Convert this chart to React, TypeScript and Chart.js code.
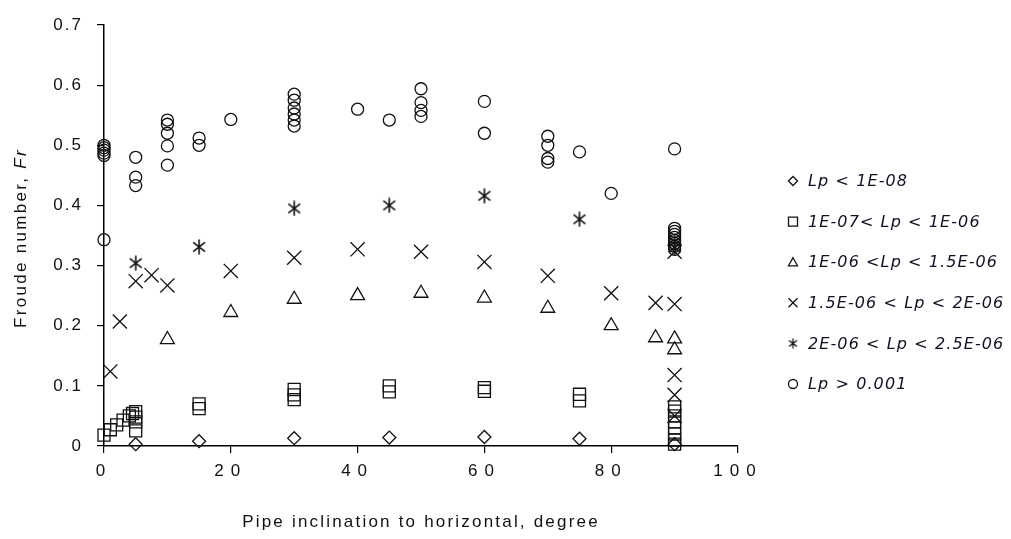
import React, { useEffect, useRef } from 'react';
import { Chart, registerables } from 'chart.js';

Chart.register(...registerables);

// ---------- data ----------
const seriesLabels = [
  'Lp < 1E-08',
  '1E-07< Lp < 1E-06',
  '1E-06 <Lp < 1.5E-06',
  '1.5E-06 < Lp < 2E-06',
  '2E-06 < Lp < 2.5E-06',
  'Lp > 0.001',
];

const xTitle = 'Pipe inclination to horizontal, degree';
const yTitleMain = 'Froude number, ';
const yTitleItalic = 'Fr';

const lpBelow1e8: [number, number][] = [
  [5, 0.003], [15, 0.008], [30, 0.013], [45, 0.014], [60, 0.015], [75, 0.012], [90, 0.003],
];

const lp1e7to1e6: [number, number][] = [
  [0, 0.018], [1, 0.027], [2, 0.035], [3, 0.043], [4, 0.05], [4.5, 0.054],
  [5, 0.057], [5, 0.048], [5, 0.04], [5, 0.025],
  [15, 0.07], [15, 0.062],
  [30, 0.094], [30, 0.085], [30, 0.077],
  [45, 0.1], [45, 0.09],
  [60, 0.097], [60, 0.091],
  [75, 0.086], [75, 0.075],
  [90, 0.065], [90, 0.058], [90, 0.05], [90, 0.04], [90, 0.03], [90, 0.02], [90, 0.01], [90, 0.003],
];

const lp1e6to15e7: [number, number][] = [
  [10, 0.177], [20, 0.222], [30, 0.244], [40, 0.25], [50, 0.254], [60, 0.246],
  [70, 0.229], [80, 0.2], [87, 0.18], [90, 0.178], [90, 0.16],
];

const lp15e7to2e6: [number, number][] = [
  [1, 0.124], [2.5, 0.207], [5, 0.274], [7.5, 0.284], [10, 0.267], [20, 0.291],
  [30, 0.313], [40, 0.327], [50, 0.323], [60, 0.306], [70, 0.283], [80, 0.254],
  [87, 0.238], [90, 0.236], [90, 0.323], [90, 0.118], [90, 0.085], [90, 0.05],
];

const lp2e6to25e7: [number, number][] = [
  [5, 0.304], [15, 0.331], [30, 0.395], [45, 0.4], [60, 0.416], [75, 0.377], [90, 0.33], [90, 0.34],
];

const lpAbove1e3: [number, number][] = [
  [0, 0.5], [0, 0.496], [0, 0.492], [0, 0.487], [0, 0.483], [0, 0.343],
  [5, 0.48], [5, 0.447], [5, 0.433],
  [10, 0.542], [10, 0.535], [10, 0.52], [10, 0.499], [10, 0.467],
  [15, 0.512], [15, 0.5],
  [20, 0.543],
  [30, 0.585], [30, 0.575], [30, 0.562], [30, 0.552], [30, 0.542], [30, 0.532],
  [40, 0.56],
  [45, 0.542],
  [50, 0.594], [50, 0.571], [50, 0.558], [50, 0.548],
  [60, 0.573], [60, 0.52],
  [70, 0.515], [70, 0.5], [70, 0.478], [70, 0.472],
  [75, 0.489],
  [80, 0.42],
  [90, 0.494], [90, 0.362], [90, 0.357], [90, 0.352], [90, 0.347], [90, 0.342],
  [90, 0.337], [90, 0.332], [90, 0.327],
];

const seriesData = [lpBelow1e8, lp1e7to1e6, lp1e6to15e7, lp15e7to2e6, lp2e6to25e7, lpAbove1e3];
const markerKinds = ['diamond', 'square', 'triangle', 'cross', 'asterisk', 'circle'];

// ---------- helpers ----------
const FONT = '"Liberation Sans", Arial, sans-serif';
const INK = '#111';

function makeAsterisk(size: number, lw: number): HTMLCanvasElement {
  const c = document.createElement('canvas');
  c.width = size;
  c.height = size;
  const g = c.getContext('2d')!;
  g.strokeStyle = INK;
  g.lineWidth = lw;
  const m = size / 2;
  const r = size / 2 - 0.5;
  g.beginPath();
  g.moveTo(m, m - r);
  g.lineTo(m, m + r);
  const a = (38 * Math.PI) / 180;
  const dx = r * Math.cos(a);
  const dy = r * Math.sin(a);
  g.moveTo(m - dx, m - dy);
  g.lineTo(m + dx, m + dy);
  g.moveTo(m - dx, m + dy);
  g.lineTo(m + dx, m - dy);
  g.stroke();
  return c;
}

function drawMarker(ctx: CanvasRenderingContext2D, kind: string, x: number, y: number, s: number, star: HTMLCanvasElement) {
  ctx.save();
  ctx.strokeStyle = INK;
  ctx.lineWidth = 1.3;
  ctx.beginPath();
  if (kind === 'diamond') {
    ctx.moveTo(x - s, y);
    ctx.lineTo(x, y - s);
    ctx.lineTo(x + s, y);
    ctx.lineTo(x, y + s);
    ctx.closePath();
    ctx.stroke();
  } else if (kind === 'square') {
    ctx.rect(x - s, y - s, 2 * s, 2 * s);
    ctx.stroke();
  } else if (kind === 'triangle') {
    ctx.moveTo(x, y - s);
    ctx.lineTo(x + s, y + s * 0.8);
    ctx.lineTo(x - s, y + s * 0.8);
    ctx.closePath();
    ctx.stroke();
  } else if (kind === 'cross') {
    ctx.moveTo(x - s, y - s);
    ctx.lineTo(x + s, y + s);
    ctx.moveTo(x - s, y + s);
    ctx.lineTo(x + s, y - s);
    ctx.stroke();
  } else if (kind === 'asterisk') {
    ctx.drawImage(star, x - star.width / 2, y - star.height / 2);
  } else {
    ctx.arc(x, y, s, 0, Math.PI * 2);
    ctx.stroke();
  }
  ctx.restore();
}

function patchSpacing(scale: any, labelSpacing: string, titleSpacing: string) {
  if (!scale || scale.__patched) return;
  scale.__patched = true;
  const origLabels = scale.drawLabels.bind(scale);
  scale.drawLabels = (area: any) => {
    const c = scale.ctx;
    c.save();
    c.letterSpacing = labelSpacing;
    origLabels(area);
    c.restore();
  };
  const origTitle = scale.drawTitle.bind(scale);
  scale.drawTitle = () => {
    const c = scale.ctx;
    c.save();
    c.letterSpacing = titleSpacing;
    origTitle();
    c.restore();
  };
}

export default function App() {
  const ref = useRef<HTMLCanvasElement | null>(null);

  useEffect(() => {
    if (!ref.current) return;
    const star = makeAsterisk(16, 1.6);
    const legendStar = makeAsterisk(11, 1.3);

    const styleFor: Record<string, any> = {
      diamond: { pointStyle: 'rectRot', pointRadius: 6.5 },
      square: { pointStyle: 'rect', pointRadius: 8.5 },
      triangle: { pointStyle: 'triangle', pointRadius: 8 },
      cross: { pointStyle: 'crossRot', pointRadius: 10 },
      asterisk: { pointStyle: star, pointRadius: 8 },
      circle: { pointStyle: 'circle', pointRadius: 6 },
    };

    const datasets = seriesData.map((d, i) => ({
      label: seriesLabels[i],
      data: d.map(([x, y]) => ({ x, y })),
      showLine: false,
      borderColor: INK,
      backgroundColor: 'rgba(0,0,0,0)',
      pointBorderWidth: 1.3,
      clip: false as any,
      ...styleFor[markerKinds[i]],
    }));

    const spacingPlugin = {
      id: 'spacingPlugin',
      beforeDraw(chart: any) {
        patchSpacing(chart.scales.x, '7px', '2.2px');
        patchSpacing(chart.scales.y, '2px', '0px');
      },
    };

    const decorPlugin = {
      id: 'decorPlugin',
      afterDraw(chart: any) {
        const ctx: CanvasRenderingContext2D = chart.ctx;
        // y axis title with italic "Fr"
        ctx.save();
        ctx.translate(21, 238);
        ctx.rotate(-Math.PI / 2);
        (ctx as any).letterSpacing = '2.3px';
        ctx.fillStyle = '#111';
        ctx.textBaseline = 'middle';
        ctx.textAlign = 'left';
        ctx.font = `17px ${FONT}`;
        const w1 = ctx.measureText(yTitleMain).width;
        ctx.font = `italic 17px ${FONT}`;
        const w2 = ctx.measureText(yTitleItalic).width;
        const start = -(w1 + w2) / 2;
        ctx.font = `17px ${FONT}`;
        ctx.fillText(yTitleMain, start, 0);
        ctx.font = `italic 17px ${FONT}`;
        ctx.fillText(yTitleItalic, start + w1, 0);
        ctx.restore();

        // legend
        ctx.save();
        (ctx as any).letterSpacing = '1.1px';
        ctx.font = `italic 16px "DejaVu Sans", Verdana, sans-serif`;
        ctx.fillStyle = '#111122';
        ctx.textBaseline = 'middle';
        ctx.textAlign = 'left';
        seriesLabels.forEach((lab, i) => {
          const y = 181 + i * 40.6;
          drawMarker(ctx, markerKinds[i], 793, y, 4.5, legendStar);
          ctx.fillText(lab, 808, y + 1);
        });
        ctx.restore();
      },
    };

    const chart = new Chart(ref.current, {
      type: 'scatter',
      data: { datasets: datasets as any },
      options: {
        animation: false,
        responsive: true,
        maintainAspectRatio: false,
        layout: { padding: { left: 0, top: 25, right: 273, bottom: 0 } },
        plugins: {
          legend: { display: false },
          tooltip: { enabled: false },
        },
        scales: {
          x: {
            type: 'linear',
            min: 0,
            max: 100,
            ticks: { stepSize: 20, color: '#111', font: { size: 17, family: FONT }, padding: 8 },
            grid: { drawOnChartArea: false, tickLength: 7, color: '#000', lineWidth: 1.2 },
            border: { color: '#000', width: 1.5 },
            title: {
              display: true,
              text: xTitle,
              color: '#111',
              font: { size: 17, family: FONT },
              padding: { top: 0, bottom: 6 },
            },
            afterFit: (s: any) => {
              s.height = 93;
            },
          },
          y: {
            type: 'linear',
            min: 0,
            max: 0.7,
            ticks: { stepSize: 0.1, color: '#111', font: { size: 17, family: FONT }, padding: 14 },
            grid: { drawOnChartArea: false, tickLength: 7, color: '#000', lineWidth: 1.2 },
            border: { color: '#000', width: 1.5 },
            afterFit: (s: any) => {
              s.width = 104;
            },
          },
        },
      },
      plugins: [spacingPlugin, decorPlugin],
    });
    return () => chart.destroy();
  }, []);

  return (
    <div style={{ position: 'fixed', left: 0, top: 0, width: 1011, height: 539, background: '#fff' }}>
      <canvas ref={ref} />
    </div>
  );
}
